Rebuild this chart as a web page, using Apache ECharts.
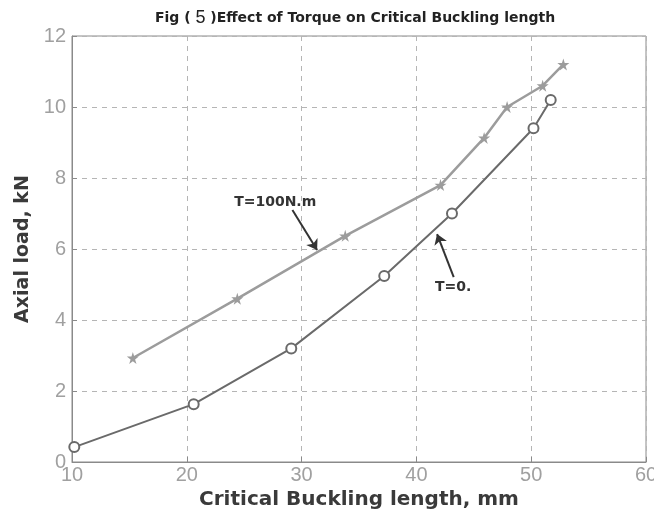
<!DOCTYPE html>
<html>
<head>
<meta charset="utf-8">
<script src="https://cdn.jsdelivr.net/npm/echarts@6/dist/echarts.min.js"></script>
<style>
	html, body { margin: 0; padding: 0; background: #fff; }
	#chart { width: 654px; height: 514px; }
</style>
</head>
<body>
<div id="chart"></div>
<script>
// T=0 curve (circles)
var lenT0 = [10.2, 20.6, 29.1, 37.2, 43.1, 50.2, 51.7];
var loadT0 = [0.42, 1.63, 3.2, 5.24, 7.0, 9.4, 10.2];
// T=100N.m curve (stars)
var lenT100 = [15.3, 24.4, 33.8, 42.1, 45.9, 47.9, 51.0, 52.8];
var loadT100 = [2.93, 4.6, 6.37, 7.8, 9.13, 10.0, 10.6, 11.2];

var xTicks = [10, 20, 30, 40, 50, 60];
var yTicks = [0, 2, 4, 6, 8, 10, 12];

function pairs(xs, ys) {
	return xs.map(function (x, i) { return [x, ys[i]]; });
}

var star = 'path://M50,0 L61,35 L98,35 L68,57 L79,91 L50,70 L21,91 L32,57 L2,35 L39,35 Z';
var tickFont = { color: '#a0a0a0', fontSize: 20, fontFamily: 'Liberation Sans' };
var boldFont = { fontWeight: 'bold', color: '#3a3a3a', fontFamily: 'DejaVu Sans' };
var noteFont = { color: '#333', fontSize: 14, fontWeight: 'bold', fontFamily: 'DejaVu Sans' };

var chart = echarts.init(document.getElementById('chart'));
chart.setOption({
	animation: false,
	title: {
		text: 'Fig ( {n|5} )Effect of Torque on Critical Buckling length',
		left: 350,
		textAlign: 'center',
		top: 4,
		textStyle: {
			fontSize: 14, fontWeight: 'bold', color: '#222', fontFamily: 'DejaVu Sans',
			rich: { n: { fontSize: 18, fontWeight: 'normal', color: '#222', fontFamily: 'Liberation Sans' } }
		}
	},
	grid: { left: 72, right: 8, top: 36, bottom: 52, show: true, borderColor: '#8a8a8a', borderWidth: 1, outerBoundsMode: 'none' },
	xAxis: {
		type: 'value', min: xTicks[0], max: xTicks[xTicks.length - 1], interval: 10,
		name: 'Critical Buckling length, mm', nameLocation: 'middle', nameGap: 26,
		nameTextStyle: Object.assign({ fontSize: 20 }, boldFont),
		axisLine: { lineStyle: { color: '#8a8a8a' } },
		axisTick: { inside: true, length: 5, lineStyle: { color: '#8a8a8a' } },
		axisLabel: Object.assign({ margin: 3 }, tickFont),
		splitLine: { lineStyle: { type: [5, 5], color: '#b5b5b5' } }
	},
	yAxis: {
		type: 'value', min: yTicks[0], max: yTicks[yTicks.length - 1], interval: 2,
		name: 'Axial load, kN', nameLocation: 'middle', nameGap: 27,
		nameTextStyle: Object.assign({ fontSize: 19 }, boldFont),
		axisLine: { lineStyle: { color: '#8a8a8a' } },
		axisTick: { inside: true, length: 5, lineStyle: { color: '#8a8a8a' } },
		axisLabel: Object.assign({ margin: 6 }, tickFont),
		splitLine: { lineStyle: { type: [5, 5], color: '#b5b5b5' } }
	},
	series: [
		{
			name: 'T=100N.m', type: 'line', data: pairs(lenT100, loadT100),
			symbol: star, symbolSize: 12,
			lineStyle: { color: '#9c9c9c', width: 2.5 },
			itemStyle: { color: '#9c9c9c' },
			markLine: {
				silent: true, symbol: ['none', 'arrow'], symbolSize: 10,
				lineStyle: { color: '#333', width: 2, type: 'solid' }, label: { show: false },
				data: [[{ coord: [29.2, 7.1] }, { coord: [31.35, 5.97] }]]
			},
			markPoint: {
				symbolSize: 0, silent: true,
				label: Object.assign({ show: true, formatter: 'T=100N.m' }, noteFont),
				data: [{ coord: [27.7, 7.3] }]
			}
		},
		{
			name: 'T=0.', type: 'line', data: pairs(lenT0, loadT0),
			symbol: 'emptyCircle', symbolSize: 10,
			lineStyle: { color: '#6a6a6a', width: 2 },
			itemStyle: { color: '#6a6a6a', borderWidth: 1.3 },
			markLine: {
				silent: true, symbol: ['none', 'arrow'], symbolSize: 10,
				lineStyle: { color: '#333', width: 2, type: 'solid' }, label: { show: false },
				data: [[{ coord: [43.25, 5.21] }, { coord: [41.8, 6.42] }]]
			},
			markPoint: {
				symbolSize: 0, silent: true,
				label: Object.assign({ show: true, formatter: 'T=0.' }, noteFont),
				data: [{ coord: [43.2, 4.93] }]
			}
		}
	]
});
</script>
</body>
</html>
